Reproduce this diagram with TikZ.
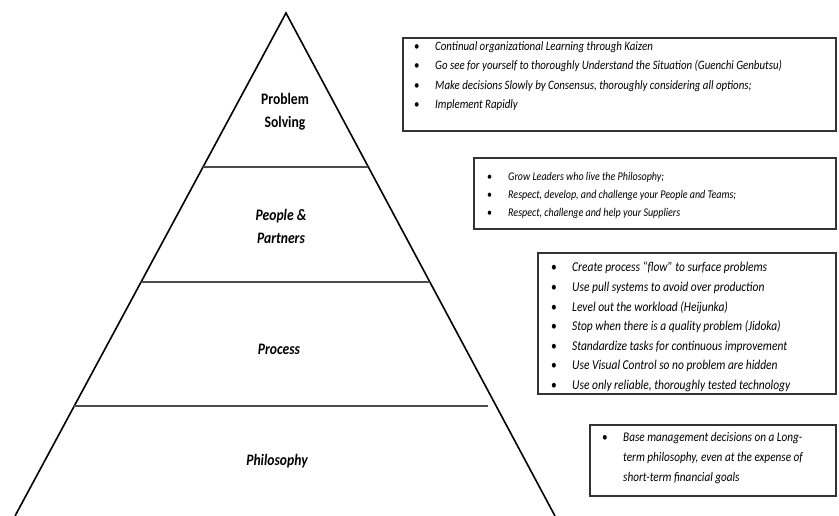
\documentclass[tikz,border=0pt]{standalone}
\usepackage{fontspec}
\setmainfont{Carlito}[FakeStretch=0.85]
\usetikzlibrary{calc}

\tikzset{
  side/.style={line width=1.6pt, black},
  tier/.style={line width=1.5pt, black!70},
  listbox/.style={line width=1.4pt, black!80},
  level/.style={font=\fontsize{16}{23}\selectfont\bfseries, align=center, inner sep=0pt},
  items/.style={font=\fontsize{#1}{19.3}\selectfont\itshape, align=left, inner sep=0pt, anchor=north west},
  items/.default=12.4,
}
\newcommand{\bul}{\makebox[21pt][l]{\upshape\textbullet}}
\newcommand{\nobul}{\makebox[21pt][l]{}}

\begin{document}
\begin{tikzpicture}[x=1pt,y=-1pt]
\useasboundingbox (0,0) rectangle (839,516);
% Pyramid
\coordinate (top) at (286,13);
\coordinate (bl) at (15,516);
\coordinate (br) at (555,516);
\draw[side] (bl) -- (top) -- (br);
\draw[tier] ($(top)!0.306!(bl)$) -- ($(top)!0.306!(br)$);
\draw[tier] ($(top)!0.535!(bl)$) -- ($(top)!0.535!(br)$);
\draw[tier] ($(top)!0.781!(bl)$) -- ($(top)!0.781!(br)+(-8,0)$);
\node[level] (solving) at (285,111.5) {Problem\\Solving};
\node[level, font=\fontsize{16}{23}\selectfont\bfseries\itshape] (people) at (281,226) {People \&\\Partners};
\node[level, font=\fontsize{16}{23}\selectfont\bfseries\itshape] (process) at (279,349) {Process};
\node[level, font=\fontsize{16}{23}\selectfont\bfseries\itshape] (philosophy) at (277,461) {Philosophy};

% Boxes
\draw[listbox] (403,38) rectangle (836,131);
\node[items=12.8] (solving list) at (414,41.5) {\bul Continual organizational Learning through Kaizen\\
\bul Go see for yourself to thoroughly Understand the Situation (Guenchi Genbutsu)\\
\bul Make decisions Slowly by Consensus, thoroughly considering all options;\\
\bul Implement Rapidly};

\draw[listbox] (474,158) rectangle (836,229);
\node[items, font=\fontsize{11.8}{18}\selectfont\itshape] (people list) at (487,172) {\bul Grow Leaders who live the Philosophy;\\
\bul Respect, develop, and challenge your People and Teams;\\
\bul Respect, challenge and help your Suppliers};

\draw[listbox] (538,253) rectangle (836,394);
\node[items, font=\fontsize{13.5}{19.6}\selectfont\itshape] (process list) at (551,262) {\bul Create process ``flow'' to surface problems\\
\bul Use pull systems to avoid over production\\
\bul Level out the workload (Heijunka)\\
\bul Stop when there is a quality problem (Jidoka)\\
\bul Standardize tasks for continuous improvement\\
\bul Use Visual Control so no problem are hidden\\
\bul Use only reliable, thoroughly tested technology};

\draw[listbox] (590,425) rectangle (836,496);
\node[items, font=\fontsize{13.2}{20}\selectfont\itshape] (philosophy list) at (602,432.3) {\bul Base management decisions on a Long-\\
\nobul term philosophy, even at the expense of\\
\nobul short-term financial goals};
\end{tikzpicture}
\end{document}
